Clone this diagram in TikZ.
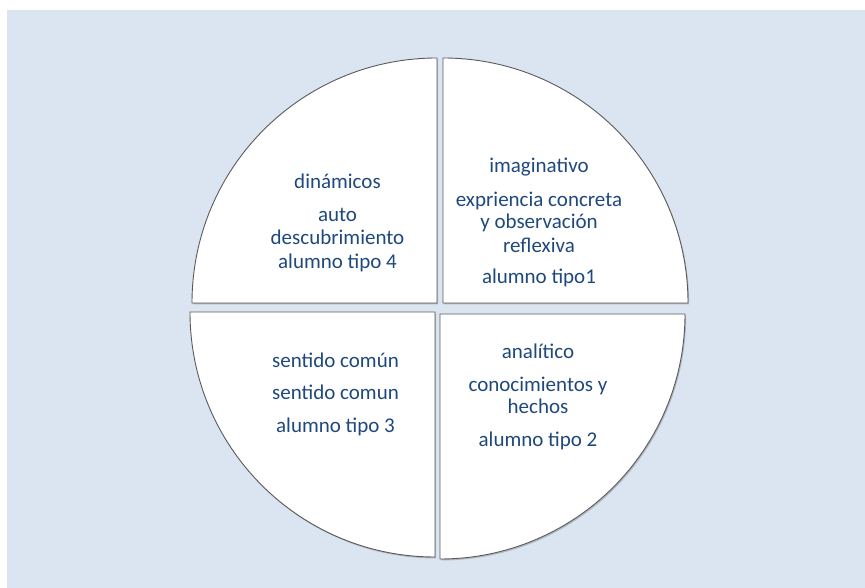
\documentclass[tikz,border=0pt]{standalone}
\usepackage{fontspec}
\setmainfont{Carlito}
\usetikzlibrary{shadows}
\definecolor{bgblue}{RGB}{219,229,241}
\definecolor{txtblue}{RGB}{31,73,125}
\definecolor{edgegray}{RGB}{90,90,90}
\begin{document}
\begin{tikzpicture}[x=1pt,y=1pt,
  quad/.style={fill=white,draw=edgegray,line width=0.9pt,
    drop shadow={opacity=0.35,shadow xshift=1.2pt,shadow yshift=-1.5pt,fill=black!60}},
  lbl/.style={anchor=base,inner sep=0pt,text=txtblue,font=\fontsize{21}{23}\selectfont}]
\useasboundingbox (0,0) rectangle (865,588);
\fill[white] (0,0) rectangle (865,588);
\fill[bgblue] (7,0) rectangle (865,578);
% quadrants
\path[quad] (437,285) -- (192,285) arc[start angle=180,end angle=90,radius=245] -- cycle;
\path[quad] (443,285) -- (443,530) arc[start angle=90,end angle=0,radius=245] -- cycle;
\path[quad] (435,276) -- (190,276) arc[start angle=180,end angle=270,radius=245] -- cycle;
\path[quad] (440,274) -- (685,274) arc[start angle=0,end angle=-90,radius=245] -- cycle;
% top-right
\node[lbl] (tr1) at (539,415.3) {imaginativo};
\node[lbl] (tr2) at (539,381.3) {expriencia concreta};
\node[lbl] (tr3) at (539,359.7) {y observación};
\node[lbl] (tr4) at (539,335.3) {reflexiva};
\node[lbl] (tr5) at (539,304) {alumno tipo1};
% top-left
\node[lbl] (tl1) at (337.5,399) {dinámicos};
\node[lbl] (tl2) at (337.5,366.3) {auto};
\node[lbl] (tl3) at (337.5,343) {descubrimiento};
\node[lbl] (tl4) at (337.5,319.7) {alumno tipo 4};
% bottom-left
\node[lbl] (bl1) at (335.5,220) {sentido común};
\node[lbl] (bl2) at (335.5,188) {sentido comun};
\node[lbl] (bl3) at (335.5,155.3) {alumno tipo 3};
% bottom-right
\node[lbl] (br1) at (538,229.7) {analítico};
\node[lbl] (br2) at (538,196.3) {conocimientos y};
\node[lbl] (br3) at (538,174.7) {hechos};
\node[lbl] (br4) at (538,141.3) {alumno tipo 2};
\end{tikzpicture}
\end{document}
